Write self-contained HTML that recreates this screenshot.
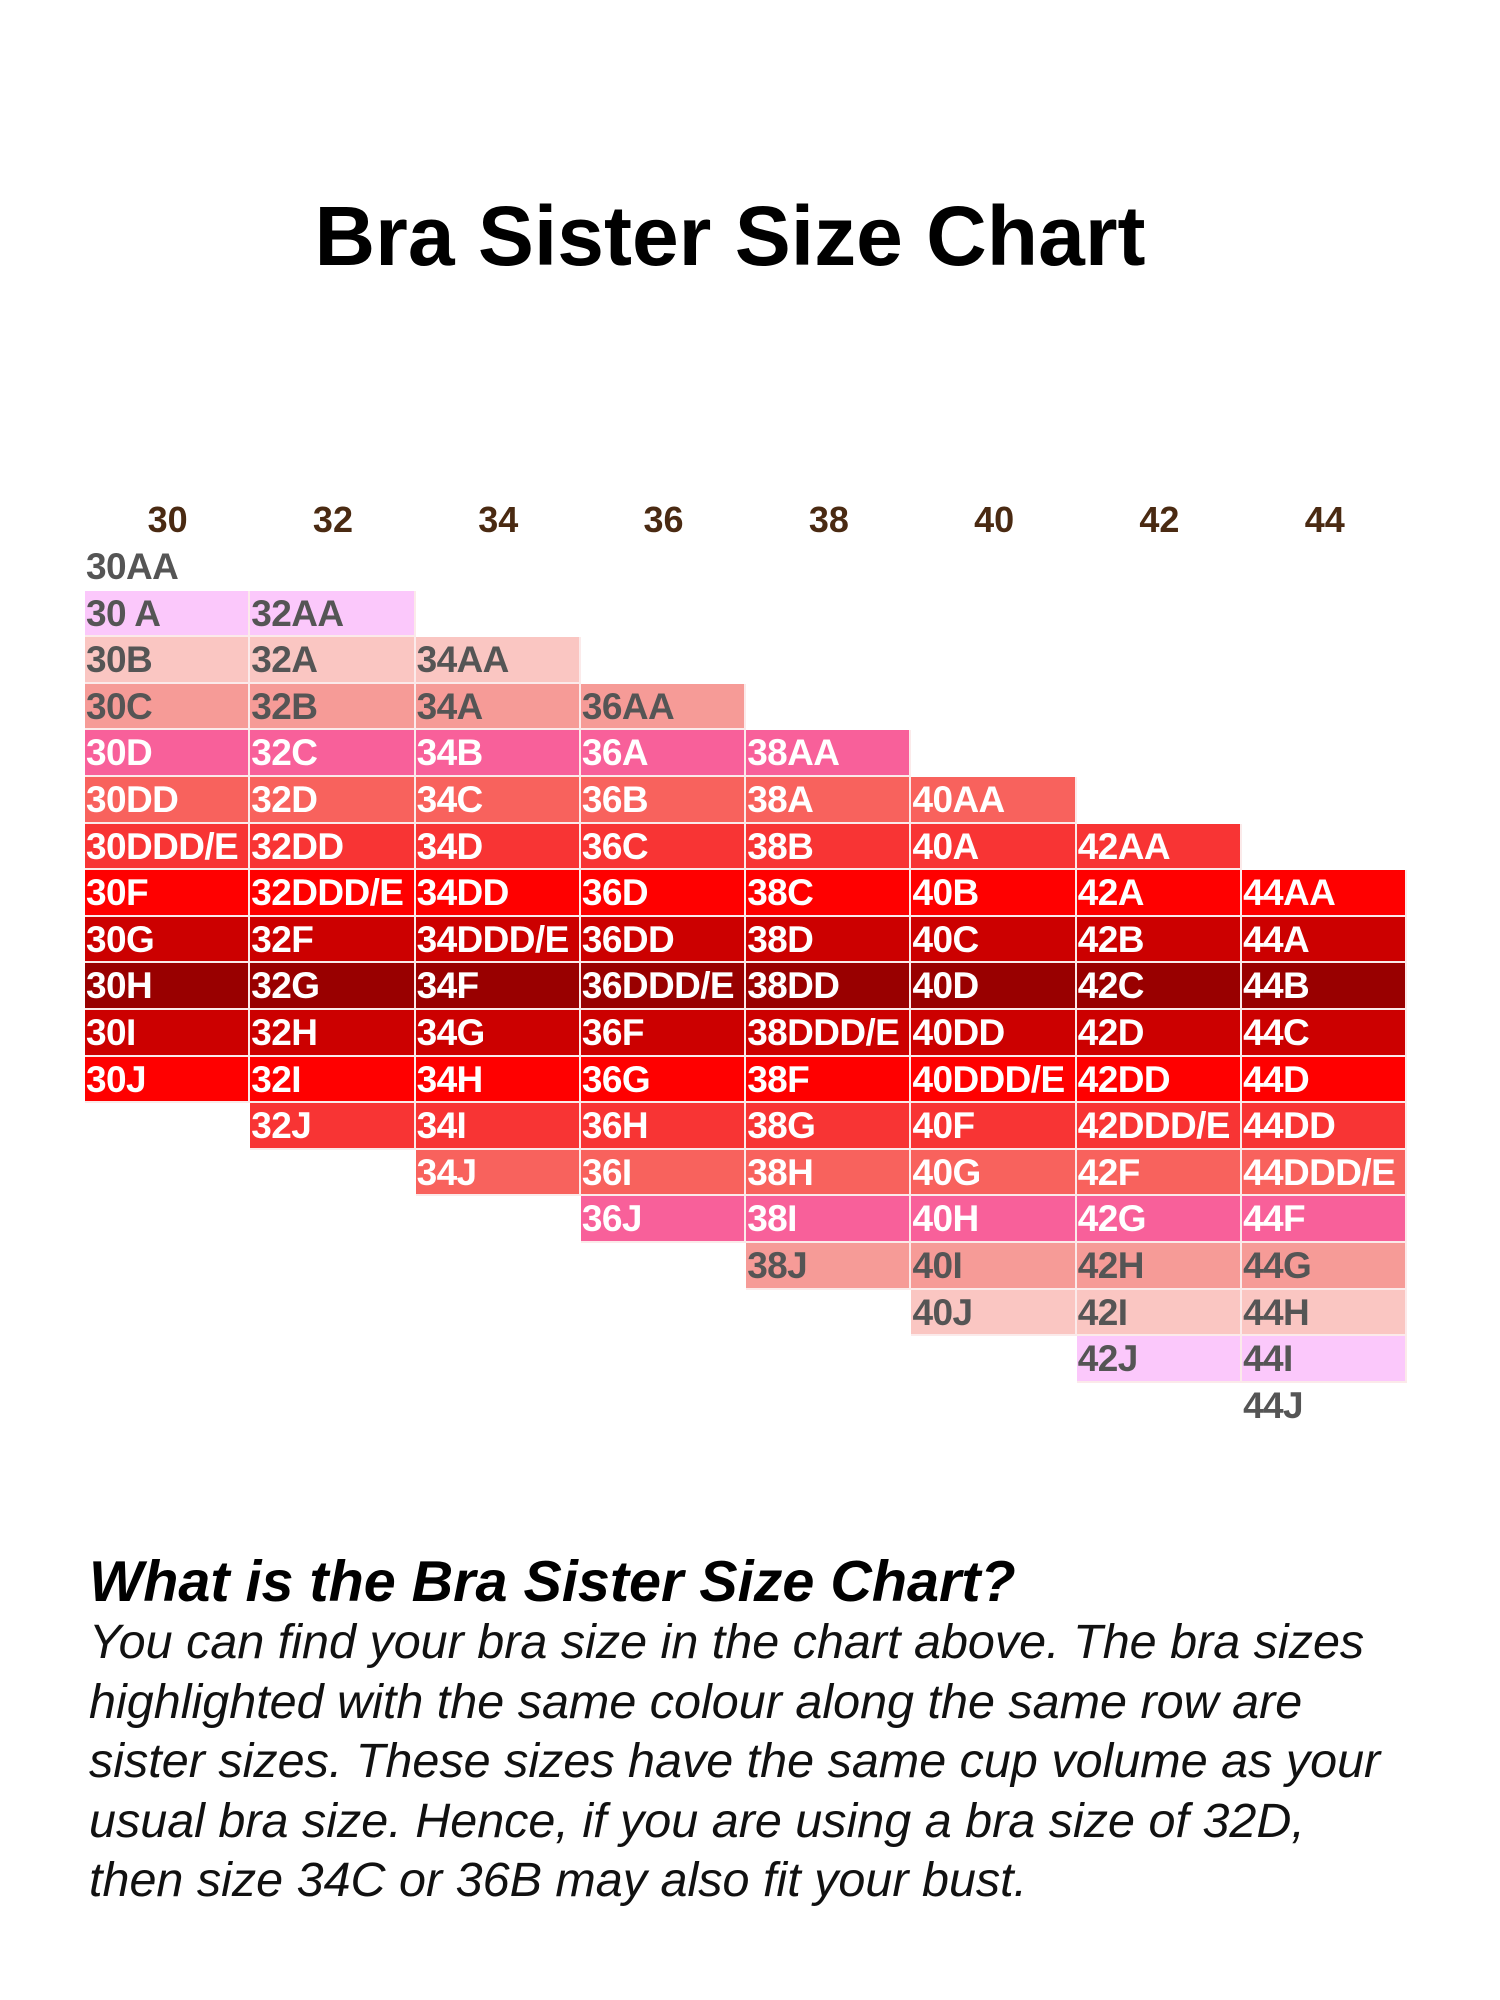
<!DOCTYPE html>
<html><head><meta charset="utf-8"><style>
html,body{margin:0;padding:0;background:#fff;width:1500px;height:2000px;overflow:hidden}
body{position:relative;font-family:"Liberation Sans",Arial,sans-serif}
.title{position:absolute;left:0;width:1460px;top:186px;text-align:center;font-weight:bold;font-size:84px;line-height:100px;color:#000}
.hdr{position:absolute;top:500px;left:85px;display:grid;grid-template-columns:repeat(8,165.3px)}
.hdr div{text-align:center;font-weight:bold;font-size:36px;color:#4a2a12;line-height:40px}
.grid{position:absolute;left:85px;top:544px;display:grid;grid-template-columns:repeat(8,165.3px);grid-template-rows:repeat(19,46.6px)}
.grid div{box-sizing:border-box;border-right:2px solid #fbeaea;border-bottom:2px solid #fbeaea;font-weight:bold;font-size:37px;line-height:45px;padding-left:1px;color:#fff;white-space:nowrap;overflow:hidden;letter-spacing:-0.6px}
.k0,.k18{background:#fff;color:#555 !important;border-color:#fff !important}
.k1,.k17{background:#fbc8fb;color:#555 !important}
.k2,.k16{background:#fac6c2;color:#555 !important}
.k3,.k15{background:#f69b97;color:#555 !important}
.k4,.k14{background:#f8609a}
.k5,.k13{background:#f8625d}
.k6,.k12{background:#f83434}
.k7,.k11{background:#ff0000}
.k8,.k10{background:#cc0000}
.k9{background:#990000}
.h2{position:absolute;left:89px;top:1550px;font-weight:bold;font-style:italic;font-size:57.5px;line-height:64px;color:#000}
.p{position:absolute;left:89px;top:1613px;font-style:italic;font-size:48.5px;line-height:59.5px;color:#111;white-space:nowrap}
</style></head><body>
<div class="title">Bra Sister Size Chart</div>
<div class="hdr"><div>30</div><div>32</div><div>34</div><div>36</div><div>38</div><div>40</div><div>42</div><div>44</div></div>
<div class="grid">
<div class="k0" style="grid-area:1/1">30AA</div>
<div class="k1" style="grid-area:2/1">30 A</div>
<div class="k2" style="grid-area:3/1">30B</div>
<div class="k3" style="grid-area:4/1">30C</div>
<div class="k4" style="grid-area:5/1">30D</div>
<div class="k5" style="grid-area:6/1">30DD</div>
<div class="k6" style="grid-area:7/1">30DDD/E</div>
<div class="k7" style="grid-area:8/1">30F</div>
<div class="k8" style="grid-area:9/1">30G</div>
<div class="k9" style="grid-area:10/1">30H</div>
<div class="k10" style="grid-area:11/1">30I</div>
<div class="k11" style="grid-area:12/1">30J</div>

<div class="k1" style="grid-area:2/2">32AA</div>
<div class="k2" style="grid-area:3/2">32A</div>
<div class="k3" style="grid-area:4/2">32B</div>
<div class="k4" style="grid-area:5/2">32C</div>
<div class="k5" style="grid-area:6/2">32D</div>
<div class="k6" style="grid-area:7/2">32DD</div>
<div class="k7" style="grid-area:8/2">32DDD/E</div>
<div class="k8" style="grid-area:9/2">32F</div>
<div class="k9" style="grid-area:10/2">32G</div>
<div class="k10" style="grid-area:11/2">32H</div>
<div class="k11" style="grid-area:12/2">32I</div>
<div class="k12" style="grid-area:13/2">32J</div>

<div class="k2" style="grid-area:3/3">34AA</div>
<div class="k3" style="grid-area:4/3">34A</div>
<div class="k4" style="grid-area:5/3">34B</div>
<div class="k5" style="grid-area:6/3">34C</div>
<div class="k6" style="grid-area:7/3">34D</div>
<div class="k7" style="grid-area:8/3">34DD</div>
<div class="k8" style="grid-area:9/3">34DDD/E</div>
<div class="k9" style="grid-area:10/3">34F</div>
<div class="k10" style="grid-area:11/3">34G</div>
<div class="k11" style="grid-area:12/3">34H</div>
<div class="k12" style="grid-area:13/3">34I</div>
<div class="k13" style="grid-area:14/3">34J</div>

<div class="k3" style="grid-area:4/4">36AA</div>
<div class="k4" style="grid-area:5/4">36A</div>
<div class="k5" style="grid-area:6/4">36B</div>
<div class="k6" style="grid-area:7/4">36C</div>
<div class="k7" style="grid-area:8/4">36D</div>
<div class="k8" style="grid-area:9/4">36DD</div>
<div class="k9" style="grid-area:10/4">36DDD/E</div>
<div class="k10" style="grid-area:11/4">36F</div>
<div class="k11" style="grid-area:12/4">36G</div>
<div class="k12" style="grid-area:13/4">36H</div>
<div class="k13" style="grid-area:14/4">36I</div>
<div class="k14" style="grid-area:15/4">36J</div>

<div class="k4" style="grid-area:5/5">38AA</div>
<div class="k5" style="grid-area:6/5">38A</div>
<div class="k6" style="grid-area:7/5">38B</div>
<div class="k7" style="grid-area:8/5">38C</div>
<div class="k8" style="grid-area:9/5">38D</div>
<div class="k9" style="grid-area:10/5">38DD</div>
<div class="k10" style="grid-area:11/5">38DDD/E</div>
<div class="k11" style="grid-area:12/5">38F</div>
<div class="k12" style="grid-area:13/5">38G</div>
<div class="k13" style="grid-area:14/5">38H</div>
<div class="k14" style="grid-area:15/5">38I</div>
<div class="k15" style="grid-area:16/5">38J</div>

<div class="k5" style="grid-area:6/6">40AA</div>
<div class="k6" style="grid-area:7/6">40A</div>
<div class="k7" style="grid-area:8/6">40B</div>
<div class="k8" style="grid-area:9/6">40C</div>
<div class="k9" style="grid-area:10/6">40D</div>
<div class="k10" style="grid-area:11/6">40DD</div>
<div class="k11" style="grid-area:12/6">40DDD/E</div>
<div class="k12" style="grid-area:13/6">40F</div>
<div class="k13" style="grid-area:14/6">40G</div>
<div class="k14" style="grid-area:15/6">40H</div>
<div class="k15" style="grid-area:16/6">40I</div>
<div class="k16" style="grid-area:17/6">40J</div>

<div class="k6" style="grid-area:7/7">42AA</div>
<div class="k7" style="grid-area:8/7">42A</div>
<div class="k8" style="grid-area:9/7">42B</div>
<div class="k9" style="grid-area:10/7">42C</div>
<div class="k10" style="grid-area:11/7">42D</div>
<div class="k11" style="grid-area:12/7">42DD</div>
<div class="k12" style="grid-area:13/7">42DDD/E</div>
<div class="k13" style="grid-area:14/7">42F</div>
<div class="k14" style="grid-area:15/7">42G</div>
<div class="k15" style="grid-area:16/7">42H</div>
<div class="k16" style="grid-area:17/7">42I</div>
<div class="k17" style="grid-area:18/7">42J</div>

<div class="k7" style="grid-area:8/8">44AA</div>
<div class="k8" style="grid-area:9/8">44A</div>
<div class="k9" style="grid-area:10/8">44B</div>
<div class="k10" style="grid-area:11/8">44C</div>
<div class="k11" style="grid-area:12/8">44D</div>
<div class="k12" style="grid-area:13/8">44DD</div>
<div class="k13" style="grid-area:14/8">44DDD/E</div>
<div class="k14" style="grid-area:15/8">44F</div>
<div class="k15" style="grid-area:16/8">44G</div>
<div class="k16" style="grid-area:17/8">44H</div>
<div class="k17" style="grid-area:18/8">44I</div>
<div class="k18" style="grid-area:19/8">44J</div>
</div>
<div class="h2">What is the Bra Sister Size Chart?</div>
<div class="p">You can find your bra size in the chart above. The bra sizes<br>highlighted with the same colour along the same row are<br>sister sizes. These sizes have the same cup volume as your<br>usual bra size. Hence, if you are using a bra size of 32D,<br>then size 34C or 36B may also fit your bust.</div>
</body></html>
